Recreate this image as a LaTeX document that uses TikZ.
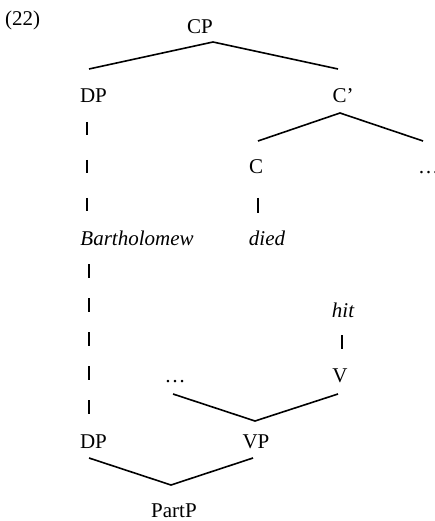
\documentclass[tikz,border=0pt]{standalone}
\usepackage{fontspec}
\setmainfont{Liberation Serif}
\begin{document}
\begin{tikzpicture}[x=1pt,y=-1pt,
  lbl/.style={anchor=base,inner sep=0pt,font=\fontsize{21}{24}\selectfont},
  branch/.style={line width=1.6pt},
  dashA/.style={line width=1.6pt,dash pattern=on 13pt off 25pt},
  dashB/.style={line width=1.6pt,dash pattern=on 14pt off 20pt}]
\useasboundingbox (0,0) rectangle (435,521);
% labels
\node[lbl,anchor=base west] (ex) at (5,26) {(22)};
\node[lbl] (cp) at (200,34) {CP};
\node[lbl] (dp1) at (93.5,103) {DP};
\node[lbl] (cbar) at (343,103) {C’};
\node[lbl] (c) at (256,174) {C};
\node[lbl,anchor=base west] (dots1) at (418,174) {…};
\node[lbl] (barth) at (137,245) {\itshape Bartholomew};
\node[lbl] (died) at (267,245) {\itshape died};
\node[lbl] (hit) at (343,317) {\itshape hit};
\node[lbl] (v) at (340,382) {V};
\node[lbl] (dots2) at (175,382) {…};
\node[lbl] (dp2) at (93.5,448) {DP};
\node[lbl] (vp) at (256,448) {VP};
\node[lbl] (partp) at (174,517) {PartP};
% branch end points
\coordinate (cpA) at (213,42);
\coordinate (cpL) at (89,69);
\coordinate (cpR) at (338,69);
\coordinate (cbA) at (340,113);
\coordinate (cbL) at (258,141);
\coordinate (cbR) at (423,141);
\coordinate (vpA) at (255,421);
\coordinate (vpL) at (173,394);
\coordinate (vpR) at (338,394);
\coordinate (ppA) at (171,485);
\coordinate (ppL) at (89,458);
\coordinate (ppR) at (253,458);
\coordinate (dpT) at (87,122);
\coordinate (baT) at (87,212);
\coordinate (baB) at (89,264);
\coordinate (dpB) at (89,414);
\coordinate (cT) at (258,198);
\coordinate (diT) at (258,213);
\coordinate (hiB) at (342,335);
\coordinate (vT) at (342,349);
% branches
\draw[branch] (cpL) -- (cpA) -- (cpR);
\draw[branch] (cbL) -- (cbA) -- (cbR);
\draw[branch] (vpL) -- (vpA) -- (vpR);
\draw[branch] (ppL) -- (ppA) -- (ppR);
\draw[dashA] (dpT) -- (baT);
\draw[dashB] (baB) -- (dpB);
\draw[branch] (cT) -- (diT);
\draw[branch] (hiB) -- (vT);
\end{tikzpicture}
\end{document}
